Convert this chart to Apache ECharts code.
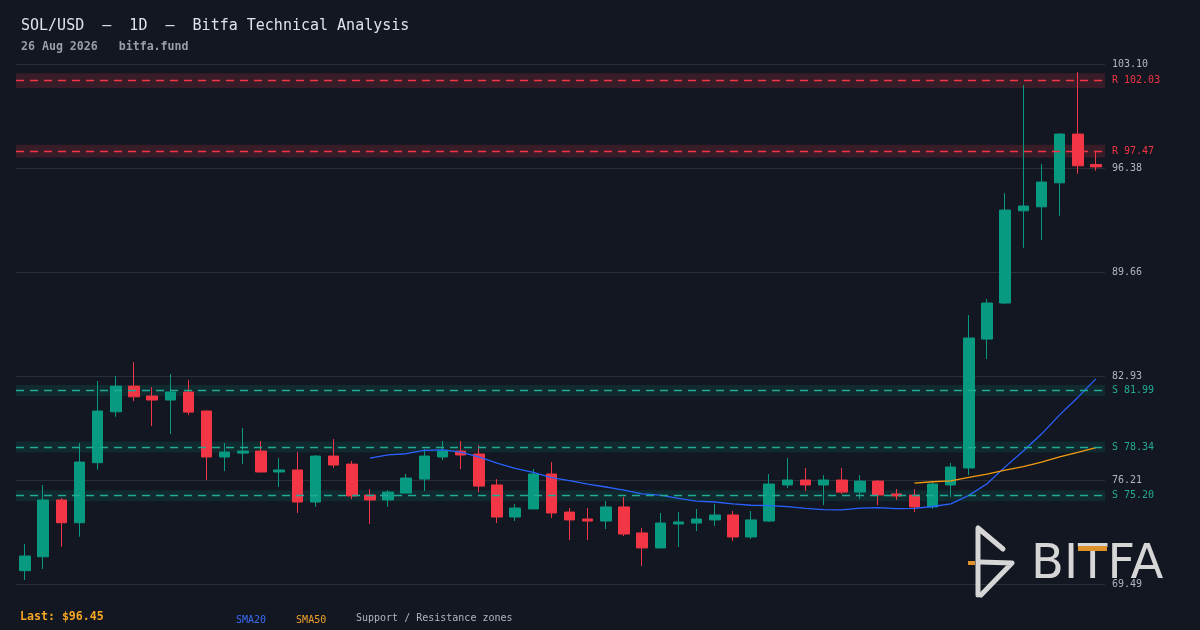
<!DOCTYPE html>
<html>
<head>
<meta charset="utf-8">
<style>
  html, body { margin: 0; padding: 0; background: #131722; }
  #chart { width: 1200px; height: 630px; }
</style>
<script src="https://cdn.jsdelivr.net/npm/echarts@6/dist/echarts.min.js"></script>
</head>
<body>
<div id="chart"></div>
<script>
// ---------- data ----------
const categories = [
  '2026-06-28','2026-06-29','2026-06-30','2026-07-01','2026-07-02','2026-07-03','2026-07-04','2026-07-05','2026-07-06','2026-07-07',
  '2026-07-08','2026-07-09','2026-07-10','2026-07-11','2026-07-12','2026-07-13','2026-07-14','2026-07-15','2026-07-16','2026-07-17',
  '2026-07-18','2026-07-19','2026-07-20','2026-07-21','2026-07-22','2026-07-23','2026-07-24','2026-07-25','2026-07-26','2026-07-27',
  '2026-07-28','2026-07-29','2026-07-30','2026-07-31','2026-08-01','2026-08-02','2026-08-03','2026-08-04','2026-08-05','2026-08-06',
  '2026-08-07','2026-08-08','2026-08-09','2026-08-10','2026-08-11','2026-08-12','2026-08-13','2026-08-14','2026-08-15','2026-08-16',
  '2026-08-17','2026-08-18','2026-08-19','2026-08-20','2026-08-21','2026-08-22','2026-08-23','2026-08-24','2026-08-25','2026-08-26'
];
const opens = [
  70.35,71.25,74.92,73.45,77.33,80.62,82.28,81.64,81.38,81.90,
  80.67,77.70,77.95,78.08,76.73,76.86,74.79,77.76,77.24,75.24,
  74.92,75.37,76.27,77.70,78.08,77.89,75.89,73.82,74.34,76.60,
  74.14,73.69,73.56,74.47,72.79,71.82,73.37,73.43,73.63,73.95,
  72.53,73.56,75.89,76.21,75.89,76.21,75.43,76.14,75.31,75.24,
  74.47,75.89,76.99,85.32,87.65,93.61,93.87,95.42,98.57,96.60
];
const closes = [
  71.30,74.92,73.45,77.37,80.67,82.28,81.59,81.38,81.90,80.60,
  77.70,78.02,78.08,76.73,76.86,74.79,77.76,77.18,75.18,74.92,
  75.43,76.34,77.76,78.08,77.83,75.82,73.82,74.40,76.60,74.08,
  73.63,73.56,74.47,72.72,71.82,73.43,73.50,73.69,73.95,72.53,
  73.63,75.95,76.21,75.89,76.21,75.43,76.14,75.24,75.18,74.47,
  75.95,77.05,85.39,87.65,93.66,93.92,95.47,98.57,96.52,96.45
];
const highs = [
  72.07,75.89,75.05,78.60,82.61,82.93,83.83,82.22,83.06,82.67,
  80.70,78.60,79.57,78.73,77.63,78.02,77.83,78.86,77.44,75.63,
  75.56,76.60,78.21,78.73,78.73,78.47,76.27,74.66,76.92,77.37,
  74.40,74.40,74.85,75.11,73.11,74.08,74.14,74.34,74.66,74.21,
  74.21,76.60,77.63,76.99,76.53,76.99,76.53,76.21,75.63,75.63,
  76.14,77.31,86.87,87.91,94.75,101.73,96.63,98.63,102.57,97.47
];
const lows = [
  69.75,70.46,71.90,72.55,76.88,80.30,81.31,79.70,79.18,80.41,
  76.21,76.79,77.24,76.70,75.76,74.08,74.47,76.99,74.98,73.37,
  74.47,75.37,75.50,77.50,76.92,75.43,73.43,73.56,74.34,73.75,
  72.33,72.33,73.04,72.59,70.65,71.82,71.88,72.91,73.24,72.27,
  72.40,73.50,75.69,75.50,74.59,75.31,74.98,74.59,74.92,74.14,
  74.34,75.11,76.53,84.03,87.58,91.22,91.72,93.29,96.00,96.20
];
// SMA values (start index 19 and 49)
const sma20Start = 19;
const sma20 = [
  77.63,77.84,77.91,78.13,78.16,78.02,77.70,77.31,76.96,76.70,
  76.37,76.17,75.94,75.76,75.56,75.31,75.24,75.03,74.85,74.79,
  74.67,74.58,74.56,74.49,74.38,74.30,74.28,74.39,74.43,74.36,
  74.38,74.50,74.67,75.22,75.97,77.06,78.08,79.18,80.42,81.55,82.75
];
const sma50Start = 49;
const sma50 = [76.01,76.10,76.15,76.38,76.59,76.85,77.08,77.36,77.70,78.00,78.31];

const yTicks = [69.49, 76.21, 82.93, 89.66, 96.38, 103.10];
const resistanceLevels = [102.03, 97.47];
const resistanceLow  = [101.55, 97.06];
const resistanceHigh = [102.51, 97.88];
const supportLevels = [81.99, 78.34, 75.20];
const supportLow  = [81.635, 77.985, 74.845];
const supportHigh = [82.345, 78.695, 75.555];
const lastPrice = 96.45;

// ---------- styles ----------
const BG = '#131722';
const UP = '#089981';
const DOWN = '#f23645';
const TEAL = '#22ab94';
const MONO = 'DejaVu Sans Mono';

const candleData = opens.map((o, i) => [o, closes[i], lows[i], highs[i]]);
const pad = (n) => new Array(n).fill('-');
const sma20Data = pad(sma20Start).concat(sma20);
const sma50Data = pad(sma50Start).concat(sma50);

const areas = [];
const lines = [];
resistanceLevels.forEach((lv, i) => {
  areas.push([{ yAxis: resistanceLow[i], itemStyle: { color: 'rgba(242,54,69,0.17)' } }, { yAxis: resistanceHigh[i] }]);
  lines.push({ yAxis: lv, lineStyle: { color: DOWN }, label: { formatter: 'R ' + lv.toFixed(2), color: DOWN } });
});
supportLevels.forEach((lv, i) => {
  areas.push([{ yAxis: supportLow[i], itemStyle: { color: 'rgba(8,153,129,0.15)' } }, { yAxis: supportHigh[i] }]);
  lines.push({ yAxis: lv, lineStyle: { color: TEAL }, label: { formatter: 'S ' + lv.toFixed(2), color: TEAL } });
});

const chart = echarts.init(document.getElementById('chart'), null, { renderer: 'canvas' });
chart.setOption({
  backgroundColor: BG,
  animation: false,
  title: {
    text: 'SOL/USD  –  1D  –  Bitfa Technical Analysis',
    subtext: '26 Aug 2026   bitfa.fund',
    left: 16,
    top: 14,
    itemGap: 7,
    textStyle: { color: '#e1e3ea', fontFamily: MONO, fontSize: 15, fontWeight: 'normal' },
    subtextStyle: { color: '#9a9ea8', fontFamily: MONO, fontSize: 11.6, fontWeight: 'bold' }
  },
  legend: {
    left: 226,
    top: 608,
    icon: 'none',
    itemWidth: 0,
    itemGap: 25,
    selectedMode: false,
    data: [
      { name: 'SMA20', textStyle: { color: '#3a6df0' } },
      { name: 'SMA50', textStyle: { color: '#f0a02a' } }
    ],
    textStyle: { fontFamily: MONO, fontSize: 10 }
  },
  grid: { left: 16, right: 95, top: 64, bottom: 46 },
  xAxis: {
    type: 'category',
    data: categories,
    boundaryGap: true,
    axisLine: { show: false },
    axisTick: { show: false },
    axisLabel: { show: false },
    splitLine: { show: false }
  },
  yAxis: {
    type: 'value',
    position: 'right',
    min: yTicks[0],
    max: yTicks[yTicks.length - 1],
    axisLine: { show: false },
    axisTick: { show: false, customValues: yTicks },
    axisLabel: {
      customValues: yTicks,
      formatter: (v) => v.toFixed(2),
      color: '#b2b5be',
      fontFamily: MONO,
      fontSize: 10,
      margin: 7
    },
    splitLine: { show: true, lineStyle: { color: '#2a2e39', width: 1 } }
  },
  series: [
    {
      name: 'SOL/USD',
      type: 'candlestick',
      data: candleData,
      barWidth: 11,
      itemStyle: { color: UP, color0: DOWN, borderColor: UP, borderColor0: DOWN, borderWidth: 1 },
      emphasis: { disabled: true },
      markArea: { silent: true, data: areas },
      markLine: {
        silent: true,
        symbol: ['none', 'none'],
        lineStyle: { type: [8, 6], width: 1.3 },
        label: { position: 'end', distance: 7, fontFamily: MONO, fontSize: 10 },
        data: lines
      }
    },
    {
      name: 'SMA20',
      type: 'line',
      data: sma20Data,
      showSymbol: false,
      smooth: false,
      lineStyle: { color: '#2962ff', width: 1.3 },
      itemStyle: { color: '#2962ff' },
      emphasis: { disabled: true },
      z: 4
    },
    {
      name: 'SMA50',
      type: 'line',
      data: sma50Data,
      showSymbol: false,
      smooth: false,
      lineStyle: { color: '#f39c12', width: 1.3 },
      itemStyle: { color: '#f39c12' },
      emphasis: { disabled: true },
      z: 4
    }
  ],
  graphic: [
    {
      type: 'text', left: 20, top: 611,
      style: { text: 'Last: $' + lastPrice.toFixed(2), fill: '#f5a623', font: 'bold 11.6px "DejaVu Sans Mono"' }
    },
    {
      type: 'text', left: 356, top: 613,
      style: { text: 'Support / Resistance zones', fill: '#b2b5be', font: '10px "DejaVu Sans Mono"' }
    },
    // watermark logo
    { type: 'polyline', shape: { points: [[1003, 549], [978, 528], [978, 595]] },
      style: { stroke: '#d6d6d6', lineWidth: 5, lineCap: 'round', lineJoin: 'round', fill: null }, z: 10 },
    { type: 'polyline', shape: { points: [[980, 562], [1012, 563], [981, 595]] },
      style: { stroke: '#d6d6d6', lineWidth: 5, lineCap: 'round', lineJoin: 'round', fill: null }, z: 10 },
    { type: 'line', shape: { x1: 968, y1: 563, x2: 975, y2: 563 },
      style: { stroke: '#e0922a', lineWidth: 4 }, z: 10 },
    { type: 'text', x: 1031, y: 566, z: 10,
      style: { text: 'BITFA', fill: '#d6d6d6', font: '48px "DejaVu Sans"', textVerticalAlign: 'middle', textAlign: 'left' } },
    { type: 'rect', shape: { x: 1078, y: 546, width: 29, height: 5 },
      style: { fill: '#e0922a' }, z: 11 }
  ]
});
</script>
</body>
</html>
